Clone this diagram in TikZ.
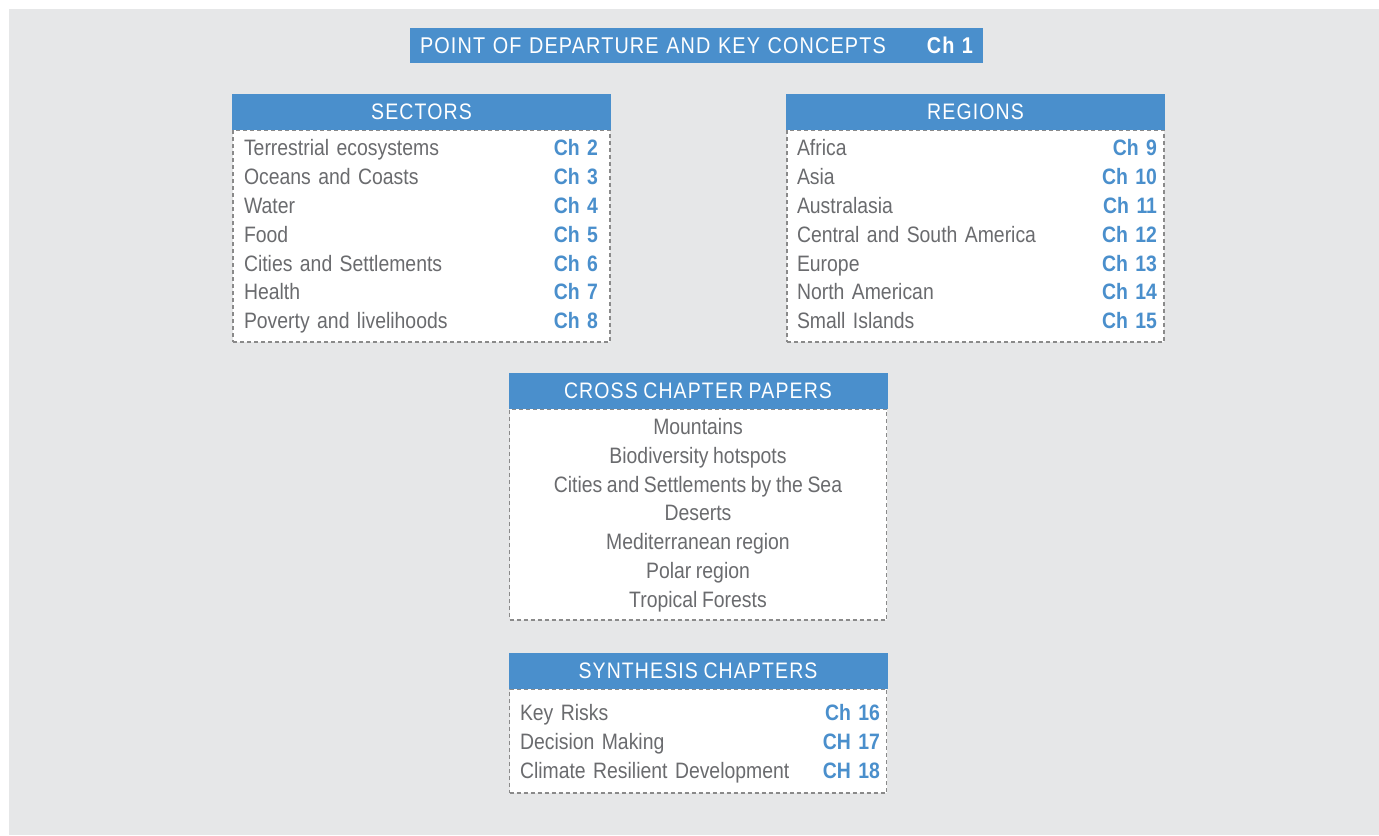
\documentclass[tikz,border=0pt]{standalone}
\usepackage{fontspec}
\setmainfont{Liberation Sans}[FakeStretch=0.87,WordSpace=0.85]
\newfontfamily\headfont{Liberation Sans}[FakeStretch=0.87,LetterSpace=5,WordSpace=0.85]
\definecolor{chblue}{HTML}{4A8FCC}
\definecolor{bggray}{HTML}{E6E7E8}
\definecolor{itemgray}{HTML}{6A6B6E}
\definecolor{edgegray}{HTML}{8A8A8A}

\begin{document}
\begin{tikzpicture}[x=0.5pt,y=-0.5pt,
		header/.style={rectangle,fill=chblue,text=white,minimum width=189.5pt,minimum height=18pt,inner sep=0pt,
			font=\headfont\fontsize{11.2}{13}\selectfont},
		listbox/.style={rectangle,draw=edgegray,fill=white,line width=0.6pt,dash pattern=on 2pt off 1.5pt,
			minimum width=188.5pt,inner sep=0pt},
		item/.style={anchor=base,inner sep=0pt,text=itemgray,font=\fontsize{11.15}{13}\selectfont},
		chrow/.style={item,text width=#1}]
	\newcommand{\chno}[1]{\textcolor{chblue}{\bfseries #1}}
	\useasboundingbox (0,0) rectangle (1379,835);
	\fill[bggray] (9,9) rectangle (1379,835);

	% title bar
	\node[header,minimum width=286.5pt,minimum height=17.5pt] (K) at (696.5,45.5) {};
	\node[anchor=base,inner sep=0pt,text=white,text width=276.5pt,font=\headfont\fontsize{11.4}{13}\selectfont]
		(K1) at (696.5,53.5) {POINT OF DEPARTURE AND KEY CONCEPTS\hfill{\bfseries Ch 1}};

	% sectors
	\node[listbox,minimum height=106pt] (SB) at (421.5,236) {};
	\node[header] (S) at (421.5,112) {SECTORS};
	\node[chrow=177pt] (S2) at (421,155) {Terrestrial ecosystems\hfill\chno{Ch 2}};
	\node[chrow=177pt] (S3) at (421,184) {Oceans and Coasts\hfill\chno{Ch 3}};
	\node[chrow=177pt] (S4) at (421,213) {Water\hfill\chno{Ch 4}};
	\node[chrow=177pt] (S5) at (421,242) {Food\hfill\chno{Ch 5}};
	\node[chrow=177pt] (S6) at (421,271) {Cities and Settlements\hfill\chno{Ch 6}};
	\node[chrow=177pt] (S7) at (421,299) {Health\hfill\chno{Ch 7}};
	\node[chrow=177pt] (S8) at (421,328) {Poverty and livelihoods\hfill\chno{Ch 8}};

	% regions
	\node[listbox,minimum height=106pt] (RB) at (975.5,236) {};
	\node[header] (R) at (975.5,112) {REGIONS};
	\node[chrow=180pt] (R9) at (977,155) {Africa\hfill\chno{Ch 9}};
	\node[chrow=180pt] (R10) at (977,184) {Asia\hfill\chno{Ch 10}};
	\node[chrow=180pt] (R11) at (977,213) {Australasia\hfill\chno{Ch 11}};
	\node[chrow=180pt] (R12) at (977,242) {Central and South America\hfill\chno{Ch 12}};
	\node[chrow=180pt] (R13) at (977,271) {Europe\hfill\chno{Ch 13}};
	\node[chrow=180pt] (R14) at (977,299) {North American\hfill\chno{Ch 14}};
	\node[chrow=180pt] (R15) at (977,328) {Small Islands\hfill\chno{Ch 15}};

	% cross chapter papers
	\node[listbox,minimum height=105.5pt] (CB) at (698,514.5) {};
	\node[header] (C) at (698,391) {CROSS CHAPTER PAPERS};
	\node[item] (C1) at (698,434) {Mountains};
	\node[item] (C2) at (698,463) {Biodiversity hotspots};
	\node[item] (C3) at (698,492) {Cities and Settlements by the Sea};
	\node[item] (C4) at (698,520) {Deserts};
	\node[item] (C5) at (698,549) {Mediterranean region};
	\node[item] (C6) at (698,578) {Polar region};
	\node[item] (C7) at (698,607) {Tropical Forests};

	% synthesis chapters
	\node[listbox,minimum height=52pt] (YB) at (698,741) {};
	\node[header] (Y) at (698,671) {SYNTHESIS CHAPTERS};
	\node[chrow=180pt] (Y16) at (700,720) {Key Risks\hfill\chno{Ch 16}};
	\node[chrow=180pt] (Y17) at (700,749) {Decision Making\hfill\chno{CH 17}};
	\node[chrow=180pt] (Y18) at (700,778) {Climate Resilient Development\hfill\chno{CH 18}};
\end{tikzpicture}
\end{document}
